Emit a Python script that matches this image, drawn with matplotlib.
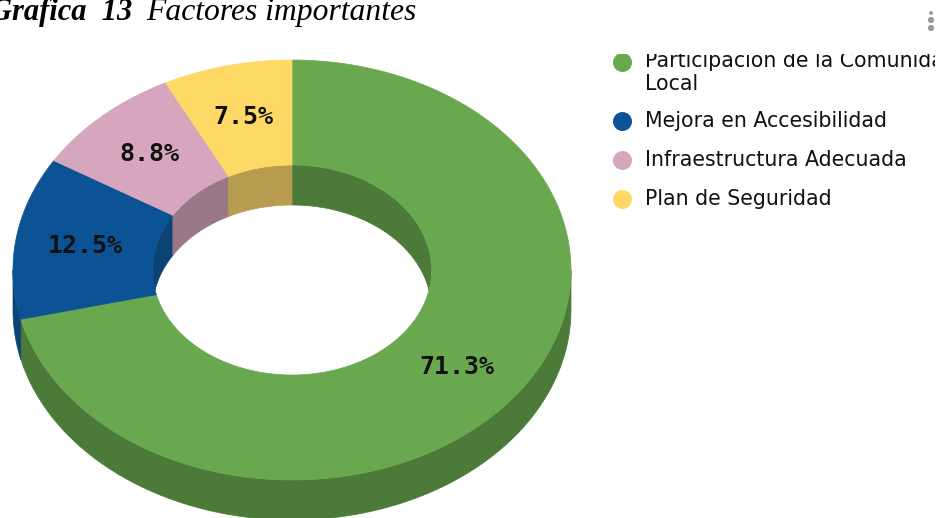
import numpy as np
import matplotlib
matplotlib.use('Agg')
import matplotlib.pyplot as plt
from matplotlib.patches import Rectangle

# Data
categories = ['Participación de la Comunidad\nLocal', 'Mejora en Accesibilidad',
              'Infraestructura Adecuada', 'Plan de Seguridad']
values = [71.3, 12.5, 8.8, 7.5]
colors = ['#6aa84f', '#0b5394', '#d5a6bd', '#ffd966']
wall_colors = ['#4c7a39', '#0b4373', '#9a788a', '#b89c50']

# Ring geometry in image pixels
cx, cy = 292, 270
rx, ry = 279, 210
hole = 0.5
depth = 40


def ring_point(angle, frac, drop=0):
    a = np.radians(angle)
    return cx + frac * rx * np.sin(a), cy - frac * ry * np.cos(a) + drop


def wall(ax, a0, a1, frac, color):
    # side wall between two angles, clockwise from the top
    if a1 <= a0:
        return
    t = np.linspace(a0, a1, 80)
    x1, y1 = ring_point(t, frac)
    x2, y2 = ring_point(t[::-1], frac, depth)
    ax.fill(np.r_[x1, x2], np.r_[y1, y2], color=color, lw=0.5, zorder=2)


fig = plt.figure(figsize=(9.4, 5.18), dpi=100)
ax = fig.add_axes([0, 0, 1, 1])
ax.set_xlim(0, 940)
ax.set_ylim(518, 0)
ax.axis('off')

# Slices run clockwise from 12 o'clock
edges = np.r_[0, np.cumsum(values)] / np.sum(values) * 360

for i in range(len(values)):
    a0, a1 = edges[i], edges[i + 1]
    # outer wall, front half only
    wall(ax, max(a0, 90), min(a1, 270), 1, wall_colors[i])
    # inner wall, back half only
    wall(ax, max(a0, 270), min(a1, 450), hole, wall_colors[i])
    wall(ax, max(a0, -90), min(a1, 90), hole, wall_colors[i])

for i in range(len(values)):
    a0, a1 = edges[i], edges[i + 1]
    t = np.linspace(a0, a1, 200)
    xo, yo = ring_point(t, 1)
    xi, yi = ring_point(t[::-1], hole)
    ax.fill(np.r_[xo, xi], np.r_[yo, yi], color=colors[i], lw=0.5, zorder=3)
    xl, yl = ring_point((a0 + a1) / 2, (1 + hole) / 2)
    ax.text(xl, yl, f'{values[i]}%', ha='center', va='center', fontsize=18,
            family='DejaVu Sans Mono', fontweight='bold', color='#111111', zorder=4)

# Title, cut by the left edge
ax.text(-10, 20, 'Grafica  13', fontsize=22, family='Liberation Serif',
        style='italic', fontweight='bold', va='baseline')
ax.text(146, 20, 'Factores importantes', fontsize=22.8, family='Liberation Serif',
        style='italic', va='baseline')

# Legend, its first row is cut off at the top and on the right
legend_clip = Rectangle((600, 54), 335, 200, transform=ax.transData)
legend_y = [62, 121, 160, 199]
for i, name in enumerate(categories):
    dot = ax.scatter(622, legend_y[i], s=187, color=colors[i], lw=0, zorder=3)
    dot.set_clip_path(legend_clip)
    if i == 0:
        tx = ax.text(645, 60, 'Participación de la Comunidad', fontsize=14.8, va='center',
                     color='#111111', clip_on=True)
        tx.set_clip_path(legend_clip)
        ax.text(645, 84, 'Local', fontsize=14.8, va='center', color='#111111')
    else:
        ax.text(645, legend_y[i], name, fontsize=14.8, va='center', color='#111111')

# Menu dots
ax.scatter([931, 931, 931], [13, 20, 28], s=[8, 20, 20], color='#9a9a9a', lw=0)

fig.savefig('out.png', dpi=100)
